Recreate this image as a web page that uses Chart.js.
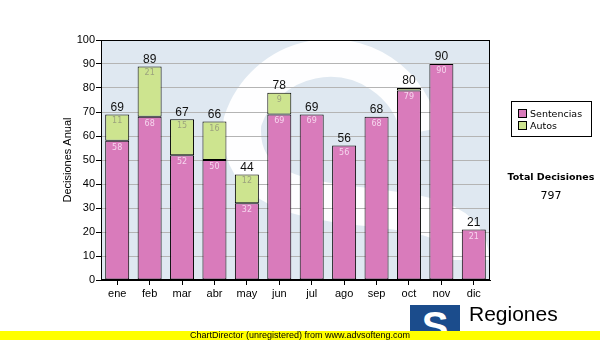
<!DOCTYPE html>
<html>
<head>
<meta charset="utf-8">
<script src="https://cdn.jsdelivr.net/npm/chart.js@4.4.1/dist/chart.umd.min.js"></script>
<style>
  html, body { margin: 0; padding: 0; background: #fff; }
  #wrap { position: relative; width: 600px; height: 340px; overflow: hidden; font-family: "Liberation Sans", Arial, sans-serif; }
  #c { position: absolute; left: 0; top: 0; }
  #legend { position: absolute; left: 511px; top: 101px; width: 79px; height: 34px; border: 1px solid #000; background: #fff; font-family: "DejaVu Sans", Verdana, sans-serif; font-size: 9.5px; color: #000; }
  .li { position: absolute; left: 6px; height: 11px; line-height: 11px; white-space: nowrap; }
  .sw { display: inline-block; width: 7px; height: 7px; border: 1px solid #000; margin-right: 3px; vertical-align: -1px; }
  #totT { position: absolute; left: 505px; top: 171px; width: 92px; text-align: center; font-family: "DejaVu Sans", Verdana, sans-serif; font-weight: bold; font-size: 9.5px; }
  #totV { position: absolute; left: 505px; top: 189px; width: 92px; text-align: center; font-family: "DejaVu Sans", Verdana, sans-serif; font-size: 11px; }
  #logo { position: absolute; left: 410px; top: 305px; width: 50px; height: 35px; background: #1b4c8c; color: #fff; font-family: "Liberation Sans", sans-serif; font-weight: bold; font-size: 40px; line-height: 42px; text-align: center; overflow: hidden; }
  #reg { position: absolute; left: 469px; top: 302px; font-size: 21px; color: #000; }
  #footer { position: absolute; left: 0; top: 331px; width: 600px; height: 9px; background: #ffff00; font-size: 9px; line-height: 9px; text-align: center; color: #000; }
</style>
</head>
<body>
<div id="wrap">
  <canvas id="c" width="600" height="340"></canvas>
  <div id="legend">
    <div class="li" style="top:6px"><span class="sw" style="background:#d97bbb"></span>Sentencias</div>
    <div class="li" style="top:18px"><span class="sw" style="background:#cde48f"></span>Autos</div>
  </div>
  <div id="totT">Total Decisiones</div>
  <div id="totV">797</div>
  <div id="logo">S</div>
  <div id="reg">Regiones</div>
  <div id="footer">ChartDirector (unregistered) from www.advsofteng.com</div>
</div>
<script>
const months = ['ene','feb','mar','abr','may','jun','jul','ago','sep','oct','nov','dic'];
const sentencias = [58,68,52,50,32,69,69,56,68,79,90,21];
const autos = [11,21,15,16,12,9,0,0,0,1,0,0];
const seriesNames = ['Sentencias','Autos'];
const yAxisTitle = 'Decisiones Anual';

const bgPlugin = {
  id: 'bg',
  beforeDraw(chart) {
    const {ctx, chartArea: a} = chart;
    ctx.save();
    ctx.fillStyle = '#dfe8f1';
    ctx.fillRect(a.left, a.top, a.right - a.left, a.bottom - a.top);
    ctx.beginPath();
    ctx.rect(a.left, a.top, a.right - a.left, a.bottom - a.top);
    ctx.clip();
    // watermark S
    ctx.strokeStyle = 'rgba(255,255,255,0.95)';
    ctx.lineWidth = 38;
    ctx.lineCap = 'butt';
    ctx.beginPath();
    ctx.arc(330, 150, 92, -0.2, Math.PI * 1.1, true);
    ctx.bezierCurveTo(230, 250, 470, 170, 470, 260);
    ctx.stroke();
    ctx.restore();
  }
};

const labelPlugin = {
  id: 'labels',
  afterDatasetsDraw(chart) {
    const ctx = chart.ctx;
    const m0 = chart.getDatasetMeta(0).data;
    const m1 = chart.getDatasetMeta(1).data;
    ctx.save();
    ctx.textAlign = 'center';
    for (let i = 0; i < months.length; i++) {
      const b0 = m0[i], b1 = m1[i];
      ctx.font = '8px "DejaVu Sans", Verdana, sans-serif';
      ctx.textBaseline = 'middle';
      ctx.fillStyle = '#f6d6ee';
      ctx.fillText(String(sentencias[i]), b0.x, b0.y + 7);
      if (autos[i] > 1) {
        ctx.fillStyle = '#9ca27e';
        ctx.fillText(String(autos[i]), b1.x, b1.y + 7);
      }
      const top = autos[i] > 0 ? Math.min(b0.y, b1.y) : b0.y;
      ctx.font = '12px "Liberation Sans", Arial, sans-serif';
      ctx.textBaseline = 'bottom';
      ctx.fillStyle = '#111';
      ctx.fillText(String(sentencias[i] + autos[i]), b0.x, top - 1);
    }
    ctx.restore();
  },
  afterDraw(chart) {
    const {ctx, chartArea: a} = chart;
    ctx.save();
    ctx.strokeStyle = '#000';
    ctx.lineWidth = 1;
    ctx.strokeRect(Math.round(a.left) + 0.5, Math.round(a.top) + 0.5, Math.round(a.right - a.left) - 1, Math.round(a.bottom - a.top) - 1);
    ctx.restore();
  }
};

new Chart(document.getElementById('c'), {
  type: 'bar',
  data: {
    labels: months,
    datasets: [
      { label: seriesNames[0], data: sentencias, backgroundColor: '#d97bbb', borderColor: '#000', borderWidth: 1, borderSkipped: false },
      { label: seriesNames[1], data: autos, backgroundColor: '#cde48f', borderColor: '#000', borderWidth: 1, borderSkipped: false }
    ]
  },
  options: {
    responsive: false,
    animation: false,
    devicePixelRatio: 1,
    layout: { padding: { left: 61, top: 40, right: 110, bottom: 40 } },
    datasets: { bar: { categoryPercentage: 1, barPercentage: 0.74 } },
    plugins: { legend: { display: false }, tooltip: { enabled: false } },
    scales: {
      x: {
        stacked: true,
        afterFit(s) { s.height = 20; },
        grid: { offset: false, drawOnChartArea: false, drawTicks: true, tickLength: 5, color: '#000' },
        border: { color: '#000' },
        ticks: { color: '#000', padding: 2, font: { family: '"Liberation Sans", Arial, sans-serif', size: 11 } }
      },
      y: {
        stacked: true,
        min: 0, max: 100,
        afterFit(s) { s.width = 40; },
        grid: { color: '#b4b4b4', tickColor: '#000', tickLength: 5 },
        border: { color: '#000' },
        ticks: { stepSize: 10, color: '#000', padding: 1, font: { family: '"Liberation Sans", Arial, sans-serif', size: 11 } },
        title: { display: true, text: yAxisTitle, color: '#000', padding: { top: 0, bottom: 0 }, font: { family: '"Liberation Sans", Arial, sans-serif', size: 11 } }
      }
    }
  },
  plugins: [bgPlugin, labelPlugin]
});
</script>
</body>
</html>
